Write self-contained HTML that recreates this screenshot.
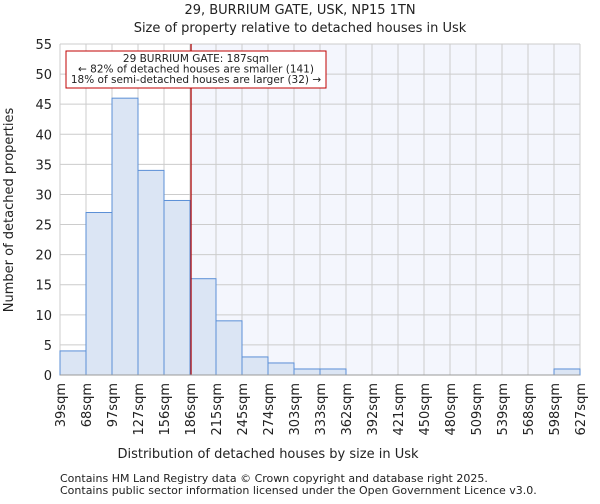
<!DOCTYPE html>
<html><head><meta charset="utf-8"><style>
body{margin:0;background:#fff;font-family:"DejaVu Sans","Liberation Sans",sans-serif}
svg text{font-family:"DejaVu Sans","Liberation Sans",sans-serif;fill:#222}
</style></head><body>
<svg id="c" width="600" height="500" xmlns="http://www.w3.org/2000/svg">
<text x="300" y="14" text-anchor="middle" font-size="13">29, BURRIUM GATE, USK, NP15 1TN</text>
<text x="300" y="32" text-anchor="middle" font-size="13">Size of property relative to detached houses in Usk</text>
<text x="268" y="458" text-anchor="middle" font-size="13">Distribution of detached houses by size in Usk</text>
<text transform="translate(13,210) rotate(-90)" text-anchor="middle" font-size="13">Number of detached properties</text>
<text x="60" y="482" font-size="11" fill="#333">Contains HM Land Registry data © Crown copyright and database right 2025.</text>
<text x="60" y="494" font-size="11" fill="#333">Contains public sector information licensed under the Open Government Licence v3.0.</text>
</svg>
<script>
const edges=["39sqm","68sqm","97sqm","127sqm","156sqm","186sqm","215sqm","245sqm","274sqm","303sqm","333sqm","362sqm","392sqm","421sqm","450sqm","480sqm","509sqm","539sqm","568sqm","598sqm","627sqm"];
const counts=[4,27,46,34,29,16,9,3,2,1,1,0,0,0,0,0,0,0,0,1];
const yTicks=[0,5,10,15,20,25,30,35,40,45,50,55];
const propertyBin=5.04;
const svg=document.getElementById('c');const NS='http://www.w3.org/2000/svg';
const X0=60,X1=580,Y0=375,Y1=44,YMAX=55;
const bw=(X1-X0)/counts.length;
const x=i=>X0+i*bw, y=v=>Y0-(Y0-Y1)*v/YMAX;
function mk(t,a){const e=document.createElementNS(NS,t);for(const k in a)e.setAttribute(k,a[k]);svg.appendChild(e);return e;}
const lx=x(propertyBin);
const sh=mk('rect',{x:lx,y:Y1,width:X1-lx,height:Y0-Y1,fill:'#f4f6fd'});


yTicks.forEach(t=>{const g=mk('line',{x1:X0,x2:X1,y1:y(t),y2:y(t),stroke:'#ccc','stroke-width':1});


const l=mk('text',{x:X0-8,y:y(t)+5,'text-anchor':'end','font-size':13});l.textContent=t;

});
edges.forEach((s,i)=>{const g=mk('line',{x1:x(i),x2:x(i),y1:Y1,y2:Y0,stroke:'#ccc','stroke-width':1});


const l=mk('text',{transform:`translate(${x(i)+5},${Y0+8}) rotate(-90)`,'text-anchor':'end','font-size':13});l.textContent=s;

});
counts.forEach((v,i)=>{if(v<=0)return;const r=mk('rect',{x:x(i),y:y(v),width:bw,height:Y0-y(v),fill:'#dbe5f4',stroke:'#5b8fd6','stroke-width':1});

});
const m=mk('line',{x1:lx,x2:lx,y1:Y1,y2:Y0,stroke:'#b00000','stroke-width':1.2});


const ax=mk('line',{x1:X0,x2:X1,y1:Y0,y2:Y0,stroke:'#999'});


const bx=mk('rect',{x:66,y:51,width:260,height:37,fill:'#fff',stroke:'#c00000','stroke-width':1});


["29 BURRIUM GATE: 187sqm","← 82% of detached houses are smaller (141)","18% of semi-detached houses are larger (32) →"].forEach((s,i)=>{
const t=mk('text',{x:196,y:62+i*10.5,'text-anchor':'middle','font-size':10.5});t.textContent=s;

});
</script>
</body></html>
